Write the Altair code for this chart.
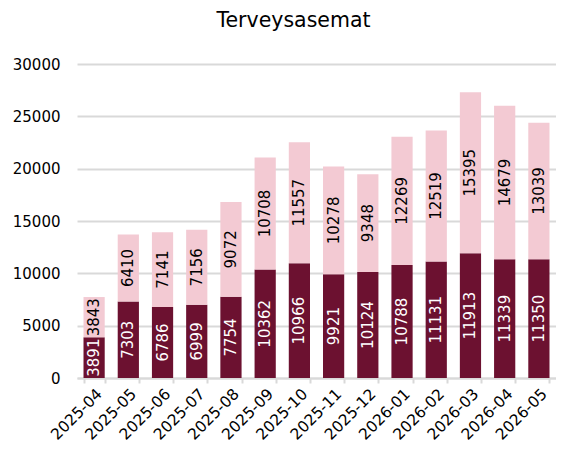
import altair as alt
import pandas as pd

months = ["2025-04", "2025-05", "2025-06", "2025-07", "2025-08", "2025-09", "2025-10",
          "2025-11", "2025-12", "2026-01", "2026-02", "2026-03", "2026-04", "2026-05"]
dark_vals = [3891, 7303, 6786, 6999, 7754, 10362, 10966, 9921, 10124, 10788, 11131, 11913, 11339, 11350]
light_vals = [3843, 6410, 7141, 7156, 9072, 10708, 11557, 10278, 9348, 12269, 12519, 15395, 14679, 13039]
series = ["A", "B"]
colors = ["#6C1130", "#F3CAD3"]
text_colors = ["#FFFFFF", "#000000"]

rows = []
for m, d, l in zip(months, dark_vals, light_vals):
    rows.append({"month": m, "series": series[0], "value": d, "mid": d / 2, "order": 0})
    rows.append({"month": m, "series": series[1], "value": l, "mid": d + l / 2, "order": 1})
df = pd.DataFrame(rows)

FONT = "DejaVu Sans"

x = alt.X("month:N", sort=months, title=None,
          scale=alt.Scale(paddingInner=0.38, paddingOuter=0.19),
          axis=alt.Axis(labelAngle=-45, labelFont=FONT, labelFontSize=15.5,
                        labelColor="#000000", tickBand="extent", domainColor="#d9d9d9",
                        tickColor="#d9d9d9", tickSize=5, labelPadding=3, grid=False,
                        domainWidth=2, tickWidth=2))

bars = alt.Chart(df).mark_bar().encode(
    x=x,
    y=alt.Y("value:Q", stack="zero", title=None,
            scale=alt.Scale(domain=[0, 30000]),
            axis=alt.Axis(values=[0, 5000, 10000, 15000, 20000, 25000, 30000], format="d",
                          labelFont=FONT, labelFontSize=15, labelColor="#000000",
                          domain=False, ticks=False, labelPadding=17,
                          minExtent=69, maxExtent=69,
                          gridColor="#d9d9d9", gridWidth=2)),
    color=alt.Color("series:N", scale=alt.Scale(domain=series, range=colors), legend=None),
    order=alt.Order("order:Q"),
)

labels = alt.Chart(df).mark_text(angle=270, font=FONT, fontSize=15,
                                 align="center", baseline="middle").encode(
    x=alt.X("month:N", sort=months),
    y=alt.Y("mid:Q"),
    text=alt.Text("value:Q", format="d"),
    color=alt.Color("series:N", scale=alt.Scale(domain=series, range=text_colors), legend=None),
)

chart = alt.layer(bars, labels).resolve_scale(color="independent").properties(
    width=479, height=314,
    padding={"left": 0, "right": 0, "top": 2, "bottom": 0},
    title=alt.TitleParams("Terveysasemat", font=FONT, fontSize=20.5,
                          fontWeight="normal", color="#000000", offset=26, dx=-23),
).configure_view(stroke=None)

chart.save("out.html", embed_options={"renderer": "svg", "actions": False})
